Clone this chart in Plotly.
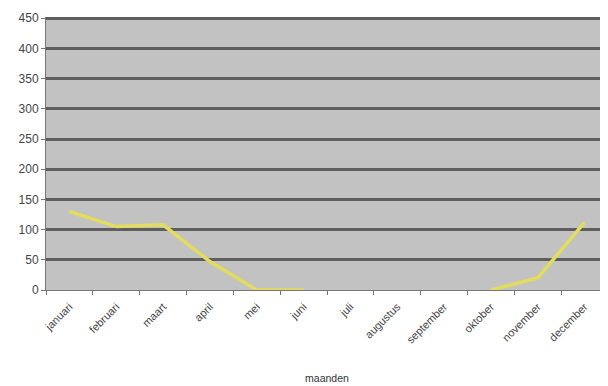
import plotly.graph_objects as go

maanden = ["januari", "februari", "maart", "april", "mei", "juni", "juli",
           "augustus", "september", "oktober", "november", "december"]
waarden = [130, 105, 108, 47, 0, 0, None, None, None, 0, 20, 112]
y_ticks = [0, 50, 100, 150, 200, 250, 300, 350, 400, 450]

fig = go.Figure()
fig.add_trace(go.Scatter(
    x=maanden, y=waarden, mode="lines",
    line=dict(color="#e3dc5e", width=3.5),
    connectgaps=False, showlegend=False,
))

fig.update_layout(
    width=608, height=386,
    margin=dict(l=38, r=8, t=9, b=104),
    paper_bgcolor="white",
    plot_bgcolor="#c2c2c2",
    font=dict(family="Liberation Sans, Arial, sans-serif", color="#333333"),
    xaxis=dict(
        type="category", range=[-0.5, 11.5], automargin=False,
        tickangle=-45, tickfont=dict(size=11, color="#444444"),
        ticklabelstandoff=5,
        showgrid=False, showline=True, linecolor="#777777", linewidth=1,
        ticks="outside", ticklen=4, tickcolor="#777777", tickson="boundaries",
        title=dict(text="maanden", font=dict(size=10.5, color="#333333"), standoff=29),
    ),
    yaxis=dict(
        range=[0, 452], tickvals=y_ticks, automargin=False,
        tickfont=dict(size=12, color="#444444"),
        showgrid=True, gridcolor="#5e5e5e", gridwidth=2.5,
        showline=True, linecolor="#777777", linewidth=1,
        ticks="outside", ticklen=4, tickcolor="#777777",
        zeroline=False,
    ),
)

fig.write_html("out.html")
